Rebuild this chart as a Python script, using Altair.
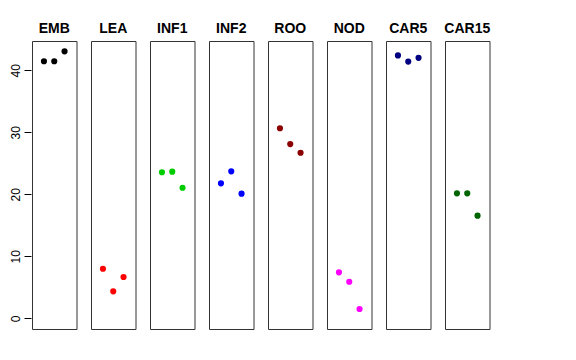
import altair as alt
import pandas as pd

groups = ["EMB", "LEA", "INF1", "INF2", "ROO", "NOD", "CAR5", "CAR15"]
colors = ["#000000", "#FF0000", "#00CD00", "#0000FF", "#8B0000", "#FF00FF", "#000080", "#006400"]
positions = [1, 2, 3]
values = {
    "EMB": [41.45, 41.45, 43.06],
    "LEA": [8.0, 4.35, 6.66],
    "INF1": [23.55, 23.65, 21.06],
    "INF2": [21.77, 23.7, 20.1],
    "ROO": [30.65, 28.1, 26.7],
    "NOD": [7.42, 5.9, 1.5],
    "CAR5": [42.4, 41.4, 42.0],
    "CAR15": [20.16, 20.16, 16.55],
}
y_ticks = [0, 10, 20, 30, 40]

rows = []
for g in groups:
    for p, v in zip(positions, values[g]):
        rows.append({"group": g, "pos": p, "value": v})
df = pd.DataFrame(rows)

base = alt.Chart(df).mark_circle(size=38, opacity=1).encode(
    x=alt.X("pos:Q", axis=None, scale=alt.Scale(domain=[-0.16, 4.16], nice=False, zero=False)),
    y=alt.Y("value:Q", title=None,
            scale=alt.Scale(domain=[-1.72, 44.72], nice=False, zero=False),
            axis=alt.Axis(values=y_ticks, grid=False, domain=False, tickSize=7,
                          tickColor="black", labelAngle=270, labelAlign="center",
                          labelBaseline="bottom", labelPadding=2, labelFontSize=12,
                          labelColor="black", labelFont="Liberation Sans")),
    color=alt.Color("group:N", scale=alt.Scale(domain=groups, range=colors), legend=None),
).properties(width=44.5, height=288)

chart = base.facet(
    column=alt.Column("group:N", sort=groups,
                      header=alt.Header(title=None, labelFontWeight="bold", labelFontSize=14,
                                        labelFont="Liberation Sans", labelColor="black",
                                        labelPadding=4)),
    spacing=13,
).properties(
    padding={"left": 0, "top": 14, "right": 5, "bottom": 5}
).configure_view(stroke="#333333", strokeWidth=1)

chart.save("out.html", embed_options={"renderer": "svg", "actions": False})
